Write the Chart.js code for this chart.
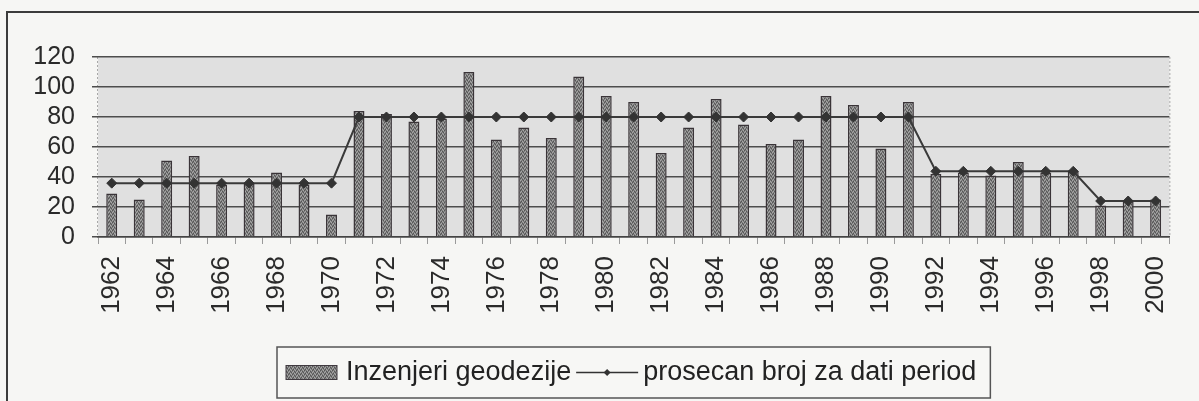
<!DOCTYPE html>
<html>
<head>
<meta charset="utf-8">
<title>Inzenjeri geodezije 1962-2000</title>
<script src="https://cdn.jsdelivr.net/npm/chart.js@4/dist/chart.umd.min.js"></script>
<style>
  html, body { margin: 0; padding: 0; background: #f6f6f4; }
  #wrap { position: relative; width: 1199px; height: 401px; }
</style>
</head>
<body>
<div id="wrap"><canvas id="chart" width="1199" height="401"></canvas></div>
<script>
const years = ['1962', '1963', '1964', '1965', '1966', '1967', '1968', '1969', '1970',
  '1971', '1972', '1973', '1974', '1975', '1976', '1977', '1978', '1979', '1980',
  '1981', '1982', '1983', '1984', '1985', '1986', '1987', '1988', '1989', '1990', '1991',
  '1992', '1993', '1994', '1995', '1996', '1997', '1998', '1999', '2000'];

const engineers = [29, 25, 51, 54, 35, 36, 43, 35, 15,
  84, 82, 77, 79, 110, 65, 73, 66, 107, 94,
  90, 56, 73, 92, 75, 62, 65, 94, 88, 59, 90,
  42, 43, 41, 50, 43, 44, 21, 24, 25];

// period averages, one value per year
const periodAvg = [35.9, 35.9, 35.9, 35.9, 35.9, 35.9, 35.9, 35.9, 35.9,
  80, 80, 80, 80, 80, 80, 80, 80, 80, 80,
  80, 80, 80, 80, 80, 80, 80, 80, 80, 80, 80,
  43.8, 43.8, 43.8, 43.8, 43.8, 43.8, 24, 24, 24];

const seriesLabels = ['Inzenjeri geodezije', 'prosecan broj za dati period'];
const yTicks = [0, 20, 40, 60, 80, 100, 120];

const FONT = '"Liberation Sans", Arial, sans-serif';
Chart.defaults.font.family = FONT;

// speckled grey fill for the bars
function makeBarPattern() {
  const c = document.createElement('canvas');
  c.width = 4; c.height = 4;
  const g = c.getContext('2d');
  g.fillStyle = '#7e7e7e';
  g.fillRect(0, 0, 4, 4);
  g.fillStyle = '#a8a8a8';
  g.fillRect(0, 0, 1, 1); g.fillRect(2, 1, 1, 1); g.fillRect(1, 3, 1, 1); g.fillRect(3, 2, 1, 1);
  g.fillStyle = '#555555';
  g.fillRect(1, 1, 1, 1); g.fillRect(3, 0, 1, 1); g.fillRect(0, 2, 1, 1); g.fillRect(2, 3, 1, 1);
  return g.createPattern(c, 'repeat');
}
const barFill = makeBarPattern();

const frameAndPlot = {
  id: 'frameAndPlot',
  beforeDraw(chart) {
    const { ctx, chartArea: a } = chart;
    ctx.save();
    ctx.fillStyle = '#f6f6f4';
    ctx.fillRect(0, 0, chart.width, chart.height);
    ctx.fillStyle = '#e0e0e0';
    ctx.fillRect(a.left, a.top, a.right - a.left, a.bottom - a.top);
    // faint right edge of the plot area
    ctx.strokeStyle = '#a8a8a8';
    ctx.lineWidth = 1;
    ctx.setLineDash([2, 2]);
    ctx.beginPath();
    ctx.moveTo(a.right + 0.5, a.top);
    ctx.lineTo(a.right + 0.5, a.bottom);
    ctx.moveTo(a.left - 0.5, a.top);
    ctx.lineTo(a.left - 0.5, a.bottom);
    ctx.stroke();
    ctx.setLineDash([]);
    // outer frame
    ctx.strokeStyle = '#3c3c3c';
    ctx.lineWidth = 2;
    ctx.beginPath();
    ctx.moveTo(7, chart.height);
    ctx.lineTo(7, 12);
    ctx.lineTo(chart.width, 12);
    ctx.stroke();
    ctx.restore();
  }
};

const boxLegend = {
  id: 'boxLegend',
  afterDraw(chart) {
    const { ctx, chartArea: a } = chart;
    const ds = chart.data.datasets;
    ctx.save();
    ctx.font = '27px ' + FONT;
    const t1 = ctx.measureText(ds[0].label).width;
    const t2 = ctx.measureText(ds[1].label).width;
    const swW = 51, swH = 14, lineW = 62;
    const total = 9 + swW + 9 + t1 + 5 + lineW + 5 + t2 + 14;
    const left = Math.round((a.left + a.right) / 2 - total / 2);
    const top = 347, h = 51, cy = top + h / 2;

    ctx.fillStyle = '#f7f7f5';
    ctx.fillRect(left, top, total, h);
    ctx.strokeStyle = '#555';
    ctx.lineWidth = 1.5;
    ctx.strokeRect(left, top, total, h);

    let x = left + 9;
    ctx.fillStyle = barFill;
    ctx.fillRect(x, cy - swH / 2, swW, swH);
    ctx.strokeStyle = '#403a40';
    ctx.lineWidth = 1;
    ctx.strokeRect(x, cy - swH / 2, swW, swH);
    x += swW + 9;

    ctx.fillStyle = '#222';
    ctx.textBaseline = 'middle';
    ctx.fillText(ds[0].label, x, cy);
    x += t1 + 5;

    ctx.strokeStyle = '#333';
    ctx.lineWidth = 1.5;
    ctx.beginPath();
    ctx.moveTo(x, cy);
    ctx.lineTo(x + lineW, cy);
    ctx.stroke();
    const mx = x + lineW / 2;
    ctx.fillStyle = '#333';
    ctx.beginPath();
    ctx.moveTo(mx, cy - 3.5); ctx.lineTo(mx + 3.5, cy); ctx.lineTo(mx, cy + 3.5); ctx.lineTo(mx - 3.5, cy);
    ctx.closePath();
    ctx.fill();
    x += lineW + 5;

    ctx.fillStyle = '#222';
    ctx.fillText(ds[1].label, x, cy);
    ctx.restore();
  }
};

new Chart(document.getElementById('chart'), {
  data: {
    labels: years,
    datasets: [
      {
        type: 'bar',
        label: seriesLabels[0],
        data: engineers,
        backgroundColor: barFill,
        borderColor: '#3a3438',
        borderWidth: 1.5,
        barPercentage: 0.4,
        categoryPercentage: 1,
        order: 2
      },
      {
        type: 'line',
        label: seriesLabels[1],
        data: periodAvg,
        borderColor: '#3a3a3a',
        borderWidth: 2,
        pointStyle: 'rectRot',
        pointRadius: 5,
        pointBackgroundColor: '#333',
        pointBorderColor: '#333',
        pointBorderWidth: 1,
        tension: 0,
        order: 1
      }
    ]
  },
  options: {
    responsive: false,
    animation: false,
    layout: { padding: { left: 10, right: 13, top: 57, bottom: 10 } },
    plugins: { legend: { display: false }, tooltip: { enabled: false } },
    scales: {
      x: {
        offset: true,
        grid: { offset: true, drawOnChartArea: false, drawTicks: true, tickLength: 7, color: '#9a9a9a' },
        border: { color: '#444', width: 1.5 },
        ticks: {
          autoSkip: false,
          minRotation: 90,
          maxRotation: 90,
          padding: 12,
          color: '#2a2a2a',
          font: { size: 26 },
          callback: function (value, index) {
            return index % 2 === 0 ? this.getLabelForValue(value) : '';
          }
        },
        afterFit: (s) => { s.height = 154; }
      },
      y: {
        min: yTicks[0],
        max: yTicks[yTicks.length - 1],
        afterBuildTicks: (s) => { s.ticks = yTicks.map((v) => ({ value: v })); },
        grid: { color: '#4d4d4d', lineWidth: 1.5, tickLength: 6 },
        border: { display: false },
        ticks: { autoSkip: false, padding: 17, color: '#2a2a2a', font: { size: 25 } },
        afterFit: (s) => { s.width = 88; }
      }
    }
  },
  plugins: [frameAndPlot, boxLegend]
});
</script>
</body>
</html>
